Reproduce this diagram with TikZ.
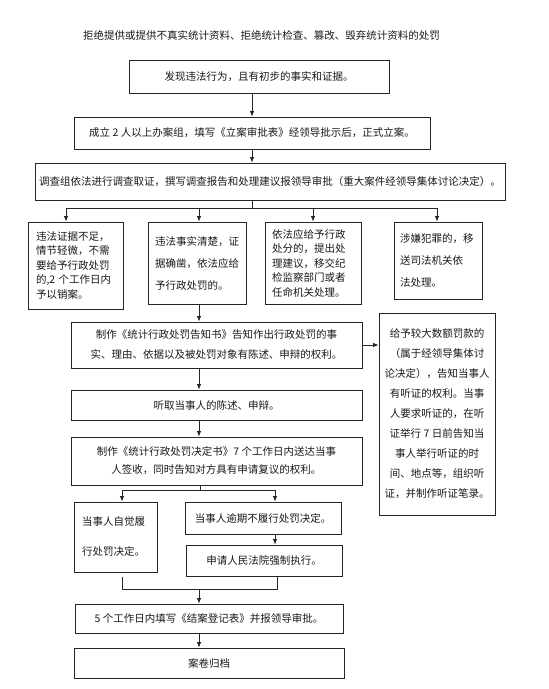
\documentclass[tikz,border=0pt]{standalone}
\usepackage{fontspec}
\setmainfont{Noto Sans CJK SC}
\usetikzlibrary{arrows.meta,calc}
\begin{document}
\begin{tikzpicture}[x=1pt,y=-1pt,
  every node/.style={text=black!90},
  box/.style={draw=black!85, line width=0.9pt, inner sep=0pt, align=center, font=\fontsize{10.5}{#1}\selectfont},
  box/.default=20,
  sz/.style 2 args={minimum width=#1pt, minimum height=#2pt},
  arr/.style={draw=black!85, line width=0.8pt, -{Latex[length=5.5pt,width=4.5pt]}},
  ln/.style={draw=black!85, line width=0.8pt}]
\useasboundingbox[fill=white] (0,0) rectangle (549,689);

\node[font=\fontsize{10.5}{12}\selectfont] (title) at (261.5,35) {拒绝提供或提供不真实统计资料、拒绝统计检查、篡改、毁弃统计资料的处罚};

\node[box, sz={260}{33}] (b1) at (259,76.5) {发现违法行为，且有初步的事实和证据。};
\node[box, sz={356}{32}] (b2) at (252,133) {成立 2 人以上办案组，填写《立案审批表》经领导批示后，正式立案。};
\node[box, sz={470}{37}] (b3) at (270,181.5) {调查组依法进行调查取证，撰写调查报告和处理建议报领导审批（重大案件经领导集体讨论决定）。};

\node[box=14.5, sz={95}{87}, text width=79pt, align=left] (bA) at (75.5,265.5) {违法证据不足，\\情节轻微，不需\\要给予行政处罚\\的,2 个工作日内\\予以销案。};
\node[box=22, sz={98}{82}, text width=84pt, align=left] (bB) at (197,263) {违法事实清楚，证\\据确凿，依法应给\\予行政处罚的。};
\node[box=14.5, sz={96}{82}, text width=82pt, align=left] (bC) at (313,263) {依法应给予行政\\处分的，提出处\\理建议，移交纪\\检监察部门或者\\任命机关处理。};
\node[box=21.7, sz={88}{77}, text width=76pt, align=left] (bD) at (438,260.5) {涉嫌犯罪的，移\\送司法机关依\\法处理。};

\node[box=20, sz={291}{46}] (bE) at (216.5,345) {制作《统计行政处罚告知书》告知作出行政处罚的事\\实、理由、依据以及被处罚对象有陈述、申辩的权利。};
\node[box=20, sz={116}{202}] (bF) at (437,414) {给予较大数额罚款的\\（属于经领导集体讨\\论决定），告知当事人\\有听证的权利。当事\\人要求听证的，在听\\证举行 7 日前告知当\\事人举行听证的时\\间、地点等，组织听\\证，并制作听证笔录。};
\node[box, sz={291}{30}] (bG) at (216.5,405) {听取当事人的陈述、申辩。};
\node[box=18, sz={291}{48}] (bH) at (216.5,461) {制作《统计行政处罚决定书》7 个工作日内送达当事\\人签收，同时告知对方具有申请复议的权利。};

\node[box=30, sz={83}{70}, text width=67pt, align=left] (bI) at (115.5,537) {当事人自觉履\\行处罚决定。};
\node[box, sz={156}{32}] (bJ) at (263,518) {当事人逾期不履行处罚决定。};
\node[box, sz={156}{31}] (bK) at (264,560.5) {申请人民法院强制执行。};
\node[box, sz={268}{29}] (bL) at (209,618.5) {5 个工作日内填写《结案登记表》并报领导审批。};
\node[box, sz={270}{30}] (bM) at (209,663) {案卷归档};

% connectors
\draw[arr] (b1.south -| b2.north) -- (b2.north);
\draw[arr] (b2.south) -- (b2.south |- b3.north);

\coordinate (s1) at (252,208);
\coordinate (sA) at (66,208);
\coordinate (sB) at (199,208);
\coordinate (sC) at (313,208);
\coordinate (sD) at (437,208);
\draw[ln] (b3.south -| s1) -- (s1);
\draw[ln] (sA) -- (sD);
\draw[arr] (sA) -- (sA |- bA.north);
\draw[arr] (sB) -- (sB |- bB.north);
\draw[arr] (sC) -- (sC |- bC.north);
\draw[arr] (sD) -- (sD |- bD.north);

\draw[arr] (sB |- bB.south) -- (sB |- bE.north);
\draw[arr] (bE.east) -- (bE.east -| bF.west);
\draw[arr] (sB |- bE.south) -- (sB |- bG.north);
\draw[arr] (sB |- bG.south) -- (sB |- bH.north);

\coordinate (s2) at (200,490);
\coordinate (s2L) at (122,490);
\coordinate (s2R) at (275,490);
\draw[ln] (bH.south -| s2) -- (s2);
\draw[ln] (s2L) -- (s2R);
\draw[arr] (s2L) -- (s2L |- bI.north);
\draw[arr] (s2R) -- (s2R |- bJ.north);
\draw[arr] (s2R |- bJ.south) -- (s2R |- bK.north);

\coordinate (m1) at (122,577);
\coordinate (m2) at (122,589);
\coordinate (m3) at (277,589);
\coordinate (mC) at (199,589);
\draw[ln] (m1) -- (m2) -- (m3) -- (m3 |- bK.south);
\draw[arr] (mC) -- (mC |- bL.north);
\draw[arr] (mC |- bL.south) -- (mC |- bM.north);
\end{tikzpicture}
\end{document}
